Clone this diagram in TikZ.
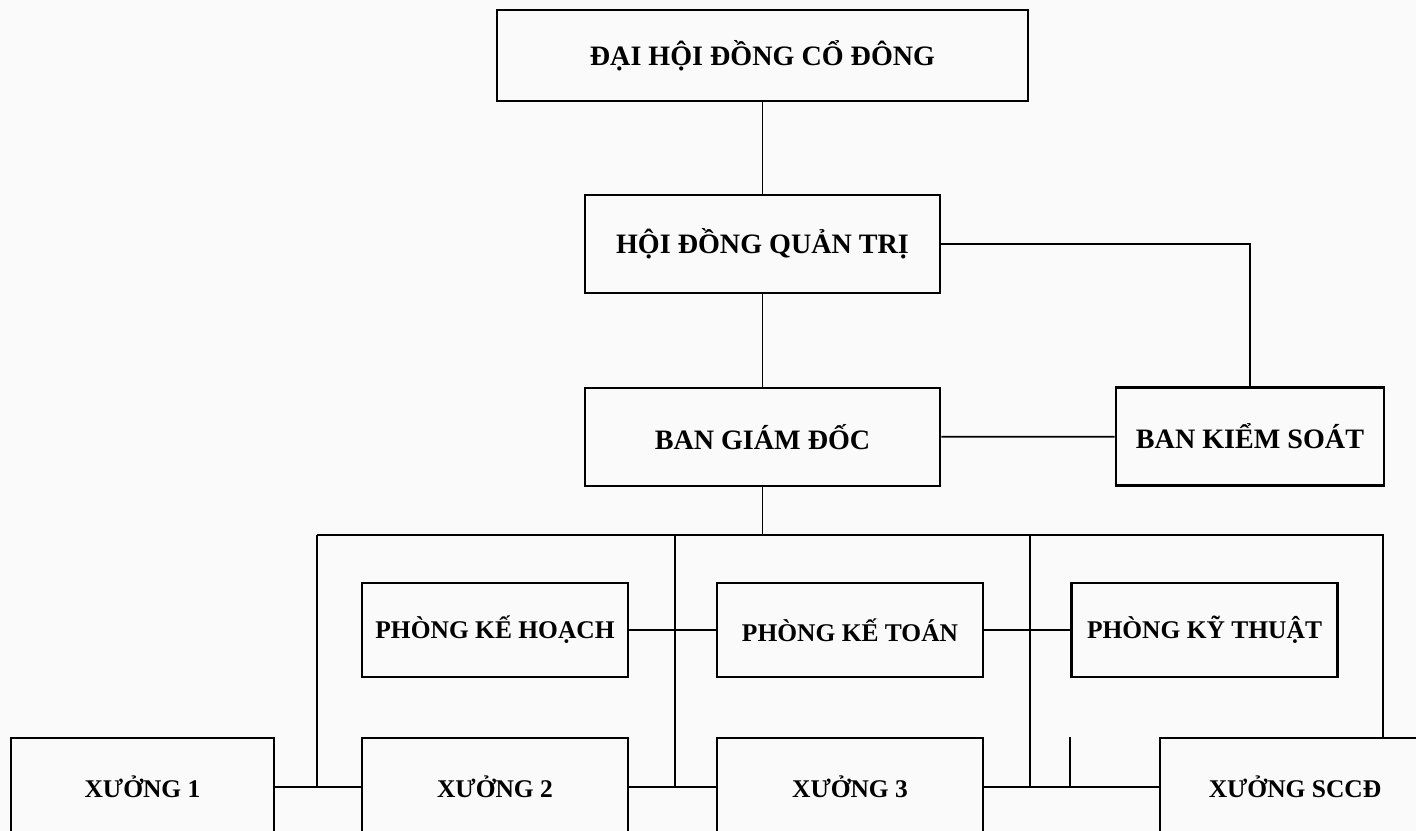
\documentclass[tikz,border=0pt]{standalone}
\usepackage{fontspec}
\setmainfont{Liberation Serif}
\begin{document}
\begin{tikzpicture}[x=0.02cm,y=-0.02cm,line join=miter,font=\bfseries\fontsize{14.5}{17}\selectfont,
		orgbox/.style={draw,line width=1.5pt,inner sep=2pt,minimum width=5.32cm,minimum height=1.96cm},
		bigbox/.style={orgbox,font=\bfseries\fontsize{16}{19}\selectfont},
		link/.style={line width=1pt}]
			\useasboundingbox (0,0) rectangle (1416,831);
			\clip (0,0) rectangle (1416,831);
			\fill[gray!4] (0,0) rectangle (1416,831);
			% cap lanh dao
			\node[bigbox,minimum width=10.62cm,minimum height=1.82cm] (dh) at (762.5,55.5) {ĐẠI HỘI ĐỒNG CỔ ĐÔNG};
			\node[bigbox,minimum width=7.1cm] (hdqt) at (762.5,244) {HỘI ĐỒNG QUẢN TRỊ};
			\node[bigbox,minimum width=7.1cm] (bgd) at (762.5,437) {BAN GIÁM ĐỐC};
			\node[bigbox,minimum width=5.36cm] (bks) at (1250,436.5) {BAN KIỂM SOÁT};
			% phong ban
			\node[orgbox,minimum height=1.88cm] (pkh) at (495,630) {PHÒNG KẾ HOẠCH};
			\node[orgbox,minimum height=1.88cm] (pkt) at (850,630) {PHÒNG KẾ TOÁN};
			\node[orgbox,minimum height=1.88cm] (pkkt) at (1204.5,630) {PHÒNG KỸ THUẬT};
			% xuong
			\node[orgbox,minimum width=5.26cm] (x1) at (142.5,787) {XƯỞNG 1};
			\node[orgbox] (x2) at (495,787) {XƯỞNG 2};
			\node[orgbox] (x3) at (850,787) {XƯỞNG 3};
			\node[orgbox,minimum width=5.4cm] (xs) at (1295,787) {XƯỞNG SCCĐ};
			% duong noi
			\coordinate (bus) at (762.5,535);
			\coordinate (b1) at (317,535);
			\coordinate (b2) at (675,535);
			\coordinate (b3) at (1030,535);
			\coordinate (b4) at (1383,535);
			\draw[link] (dh) -- (hdqt);
			\draw[link] (hdqt) -- (bgd);
			\draw[link] (hdqt.east) -| (bks.north);
			\draw[link] (bgd) -- (bks);
			\draw[link] (bgd) -- (bus);
			\draw[link] (b1) -- (b4) -- (b4 |- xs.north);
			\foreach \b/\x in {b1/x1,b2/x2,b3/x3}{
				\draw[link] (\b) -- (\b |- \x.east);	}
			\draw[link] (x1) -- (x2);
			\draw[link] (x2) -- (x3);
			\draw[link] (x3) -- (xs);
			\draw[link] (pkh) -- (pkt);
			\draw[link] (pkt) -- (pkkt);
			\draw[link] (pkkt.west |- x3.east) -- (pkkt.west |- x3.north);
		\end{tikzpicture}
\end{document}
